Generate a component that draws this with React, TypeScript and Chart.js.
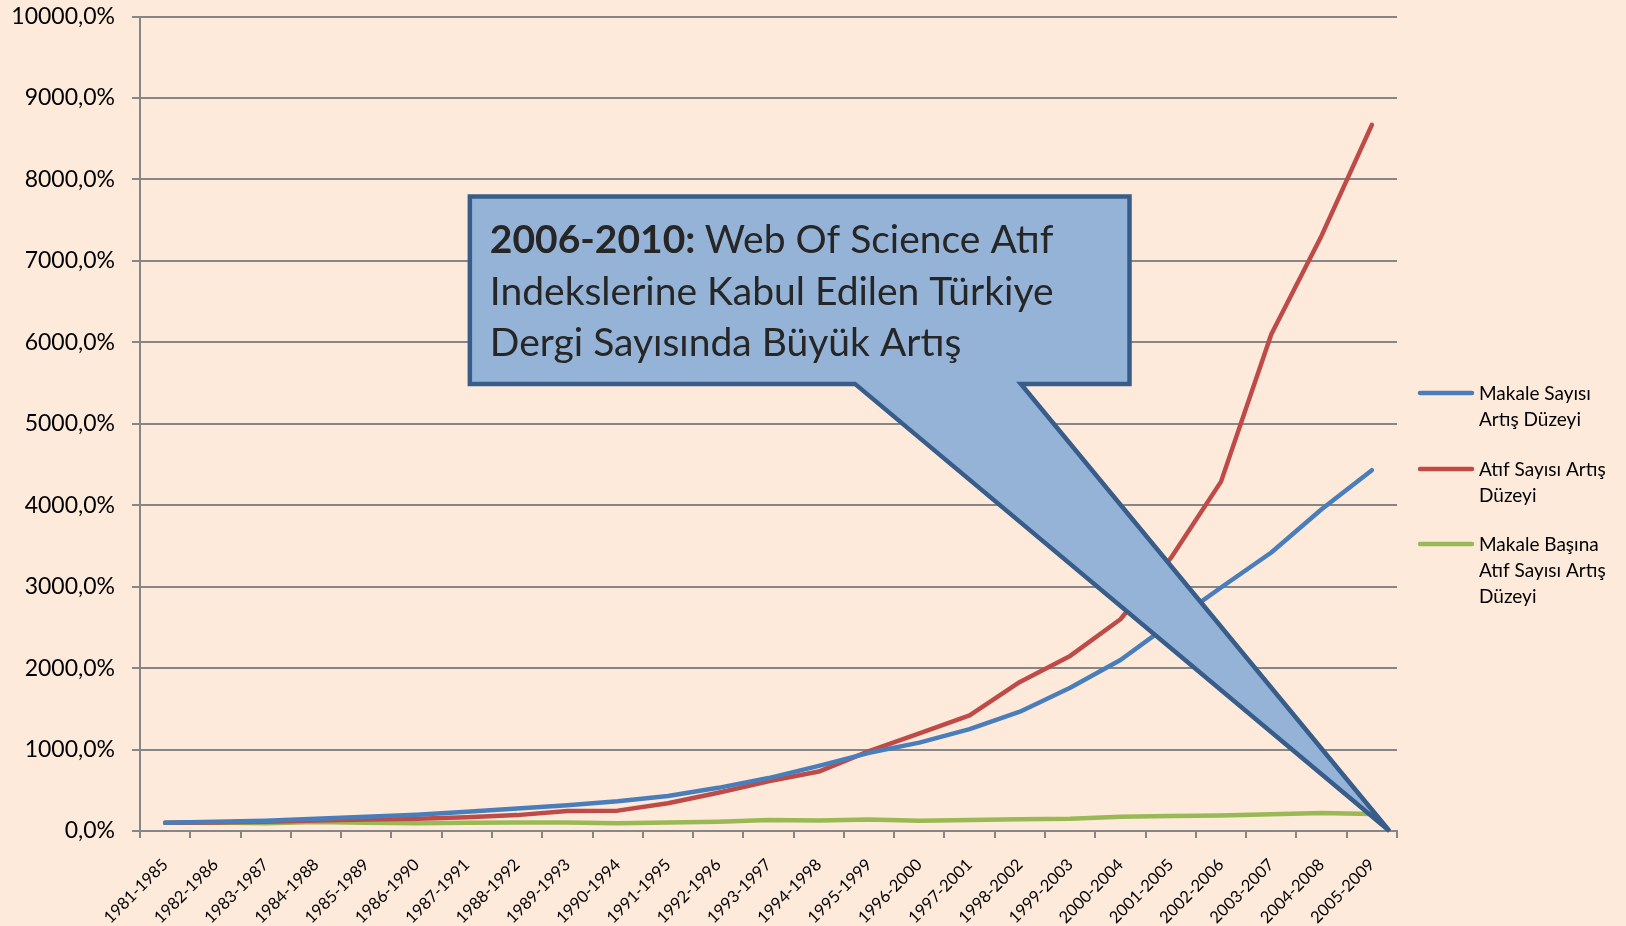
import React, { useEffect, useRef } from "react";
import { Chart, registerables } from "chart.js";

Chart.register(...registerables);

const categories = [
  "1981-1985", "1982-1986", "1983-1987", "1984-1988", "1985-1989",
  "1986-1990", "1987-1991", "1988-1992", "1989-1993", "1990-1994",
  "1991-1995", "1992-1996", "1993-1997", "1994-1998", "1995-1999",
  "1996-2000", "1997-2001", "1998-2002", "1999-2003", "2000-2004",
  "2001-2005", "2002-2006", "2003-2007", "2004-2008", "2005-2009",
];

const makaleSayisi = [
  100, 115, 127, 150, 175, 200, 235, 275, 315, 365,
  430, 530, 650, 800, 960, 1085, 1250, 1465, 1760, 2100,
  2550, 2990, 3420, 3950, 4430,
];

const atifSayisi = [
  100, 105, 115, 130, 140, 150, 170, 195, 245, 250,
  340, 470, 610, 730, 980, 1200, 1420, 1830, 2150, 2600,
  3350, 4290, 6100, 7310, 8670,
];

const makaleBasinaAtif = [
  100, 105, 95, 110, 100, 95, 100, 105, 105, 95,
  105, 115, 135, 130, 140, 125, 135, 145, 150, 175,
  185, 190, 205, 220, 210,
];

const yMin = 0;
const yMax = 10000;
const yStep = 1000;

const seriesNames = ["Makale Sayısı Artış Düzeyi", "Atıf Sayısı Artış Düzeyi", "Makale Başına Atıf Sayısı Artış Düzeyi"];
const legendLines = [
  ["Makale Sayısı", "Artış Düzeyi"],
  ["Atıf Sayısı Artış", "Düzeyi"],
  ["Makale Başına", "Atıf Sayısı Artış", "Düzeyi"],
];
const seriesColors = ["#4A7EBB", "#BE4B48", "#98B954"];

const calloutBold = "2006-2010:";
const calloutLines = ["Web Of Science Atıf", "Indekslerine Kabul Edilen Türkiye", "Dergi Sayısında Büyük Artış"];

const FONT = "Lato, 'Open Sans', sans-serif";
const BG = "#FDEADA";
const GRID = "#868686";

const calloutPlugin = {
  id: "callout",
  afterDatasetsDraw(chart: any) {
    const ctx = chart.ctx;
    const xs = chart.scales.x;
    const ys = chart.scales.y;
    const left = xs.getPixelForValue(6.06);
    const right = xs.getPixelForValue(19.18);
    const top = ys.getPixelForValue(7790);
    const bottom = ys.getPixelForValue(5490);
    const tailL = xs.getPixelForValue(13.72);
    const tailR = xs.getPixelForValue(17.02);
    const tipX = xs.getPixelForValue(24.35);
    const tipY = ys.getPixelForValue(0);
    ctx.save();
    ctx.beginPath();
    ctx.moveTo(left, top);
    ctx.lineTo(right, top);
    ctx.lineTo(right, bottom);
    ctx.lineTo(tailR, bottom);
    ctx.lineTo(tipX, tipY);
    ctx.lineTo(tailL, bottom);
    ctx.lineTo(left, bottom);
    ctx.closePath();
    ctx.fillStyle = "#95B3D7";
    ctx.fill();
    ctx.lineWidth = 4.5;
    ctx.lineJoin = "miter";
    ctx.strokeStyle = "#385D8A";
    ctx.stroke();

    ctx.fillStyle = "#262626";
    ctx.textBaseline = "middle";
    ctx.textAlign = "left";
    const tx = left + 20;
    const ty = top + 44;
    const lh = 51.5;
    ctx.font = `bold 39px ${FONT}`;
    ctx.fillText(calloutBold, tx, ty);
    const bw = ctx.measureText(calloutBold + " ").width;
    ctx.font = `39px ${FONT}`;
    ctx.fillText(calloutLines[0], tx + bw, ty);
    ctx.fillText(calloutLines[1], tx, ty + lh);
    ctx.fillText(calloutLines[2], tx, ty + 2 * lh);
    ctx.restore();
  },
};

const legendPlugin = {
  id: "customLegend",
  afterDraw(chart: any) {
    const ctx = chart.ctx;
    const x0 = chart.chartArea.right + 23;
    const ys = chart.scales.y;
    const starts = [ys.getPixelForValue(5378), ys.getPixelForValue(4445), ys.getPixelForValue(3524)];
    ctx.save();
    ctx.font = `19px ${FONT}`;
    ctx.textBaseline = "middle";
    ctx.textAlign = "left";
    legendLines.forEach((lines, i) => {
      const y = starts[i];
      ctx.strokeStyle = seriesColors[i];
      ctx.lineWidth = 4.5;
      ctx.lineCap = "round";
      ctx.beginPath();
      ctx.moveTo(x0, y);
      ctx.lineTo(x0 + 52, y);
      ctx.stroke();
      ctx.fillStyle = "#000";
      lines.forEach((t, j) => ctx.fillText(t, x0 + 59, y + 1 + j * 26));
    });
    ctx.restore();
  },
};

export default function App() {
  const ref = useRef<HTMLCanvasElement | null>(null);
  useEffect(() => {
    document.body.style.margin = "0";
    document.body.style.background = BG;
    const canvas = ref.current;
    if (!canvas) return;
    const chart = new Chart(canvas, {
      type: "line",
      data: {
        labels: categories,
        datasets: [makaleSayisi, atifSayisi, makaleBasinaAtif].map((d, i) => ({
          label: seriesNames[i],
          data: d,
          borderColor: seriesColors[i],
          backgroundColor: seriesColors[i],
          borderWidth: 4.5,
          pointRadius: 0,
          tension: 0,
          fill: false,
          borderCapStyle: "round",
          borderJoinStyle: "round",
        })),
      },
      options: {
        responsive: false,
        animation: false,
        devicePixelRatio: 1,
        layout: { padding: { top: 16.6, right: 229, left: 0, bottom: 0 } },
        plugins: { legend: { display: false }, tooltip: { enabled: false } },
        scales: {
          x: {
            offset: true,
            grid: { display: true, drawOnChartArea: false, drawTicks: true, tickLength: 7, color: GRID, lineWidth: 2, offset: true },
            border: { display: true, color: GRID, width: 2 },
            ticks: {
              autoSkip: false,
              maxRotation: 45,
              minRotation: 45,
              color: "#000",
              font: { family: FONT, size: 16.5 },
              padding: 17,
            },
            afterFit: (s: any) => { s.height = 95; s.paddingLeft = 0; s.paddingRight = 0; s.paddingTop = 0; s.paddingBottom = 0; },
          },
          y: {
            min: yMin,
            max: yMax,
            ticks: {
              stepSize: yStep,
              color: "#000",
              font: { family: FONT, size: 23 },
              padding: 17,
              callback: (v: any) => Number(v).toFixed(1).replace(".", ",") + "%",
            },
            grid: { color: GRID, lineWidth: 2, tickLength: 8, drawTicks: true },
            border: { display: true, color: GRID, width: 2 },
            afterFit: (s: any) => { s.width = 140; s.paddingTop = 0; s.paddingBottom = 0; },
          },
        },
      },
      plugins: [calloutPlugin, legendPlugin],
    });
    return () => chart.destroy();
  }, []);
  return (
    <div style={{ width: 1626, height: 926, background: BG }}>
      <canvas ref={ref} width={1626} height={926} style={{ display: "block" }} />
    </div>
  );
}
